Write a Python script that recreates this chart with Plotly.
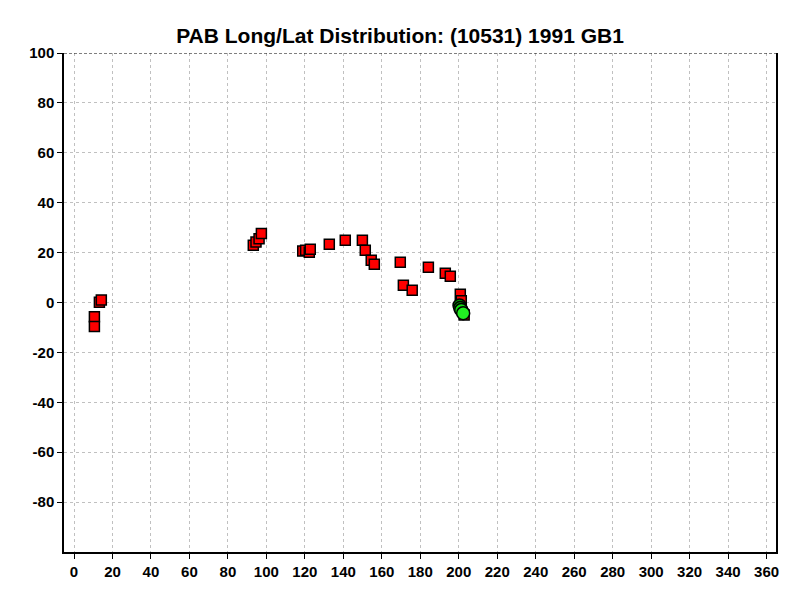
import plotly.graph_objects as go

title_text = "PAB Long/Lat Distribution: (10531) 1991 GB1"

sq_lon = [10.6, 10.6, 13.2, 14.2, 93.2, 94.6, 96.2, 97.4,
          118.9, 120.4, 122.3, 122.8, 132.7, 141.0, 149.9, 151.4, 154.5, 156.1,
          169.6, 171.2, 175.8, 184.2, 193.0, 195.6, 200.8, 201.3, 202.8]
sq_lat = [-5.7, -9.6, 0.1, 1.0, 22.9, 24.2, 25.6, 27.7,
          20.6, 20.9, 20.1, 21.3, 23.3, 24.9, 24.9, 20.9, 16.9, 15.3,
          16.1, 6.9, 4.9, 14.1, 11.7, 10.5, 3.3, 0.7, -5.0]

circ_lon = [200.4, 200.8, 201.3, 202.3]
circ_lat = [-1.2, -2.2, -3.0, -4.3]
circ_colors = ["#009900", "#00bb00", "#11dd11", "#22ee22"]

x_ticks = list(range(0, 361, 20))
y_ticks = list(range(-80, 101, 20))

fig = go.Figure()
fig.add_trace(go.Scatter(
    x=sq_lon, y=sq_lat, mode="markers",
    marker=dict(symbol="square", size=10, color="#ff0000",
                line=dict(color="black", width=1.5)),
    showlegend=False, cliponaxis=False))
fig.add_trace(go.Scatter(
    x=circ_lon, y=circ_lat, mode="markers",
    marker=dict(symbol="circle", size=13, color=circ_colors,
                line=dict(color="black", width=1.5)),
    showlegend=False, cliponaxis=False))

fig.add_shape(type="line", xref="paper", yref="y", x0=0, x1=1, y0=100, y1=100,
              line=dict(color="black", width=1, dash="3px,2px"))

font_family = "Liberation Sans, Arial, sans-serif"
# page body has an 8px margin; compensate so plot sits where the reference has it
fig.update_layout(
    width=792, height=592,
    paper_bgcolor="white", plot_bgcolor="white",
    margin=dict(l=56, r=24, t=45, b=48),
    title=dict(text="<b>" + title_text + "</b>", x=(400 - 8) / 792, xanchor="center",
               y=1 - 28 / 592, yanchor="middle",
               font=dict(family=font_family, size=21, color="black")),
    xaxis=dict(range=[-5.2, 364.9], tickvals=x_ticks,
               ticktext=[f"<b>{v}</b>" for v in x_ticks],
               showgrid=True, gridcolor="#c0c0c0", griddash="3px,3px", gridwidth=1,
               showline=True, linecolor="black", linewidth=1.5, mirror=False,
               ticks="outside", ticklen=5, tickcolor="black",
               tickfont=dict(family=font_family, size=15, color="black"),
               zeroline=False),
    yaxis=dict(range=[-100, 100], tickvals=y_ticks,
               ticktext=[f"<b>{v}</b>" for v in y_ticks],
               showgrid=True, gridcolor="#c0c0c0", griddash="3px,3px", gridwidth=1,
               showline=True, linecolor="black", linewidth=1.5, mirror=True,
               ticks="outside", ticklen=5, tickcolor="black",
               tickfont=dict(family=font_family, size=15, color="black"),
               zeroline=False),
)

fig.write_html("out.html")
